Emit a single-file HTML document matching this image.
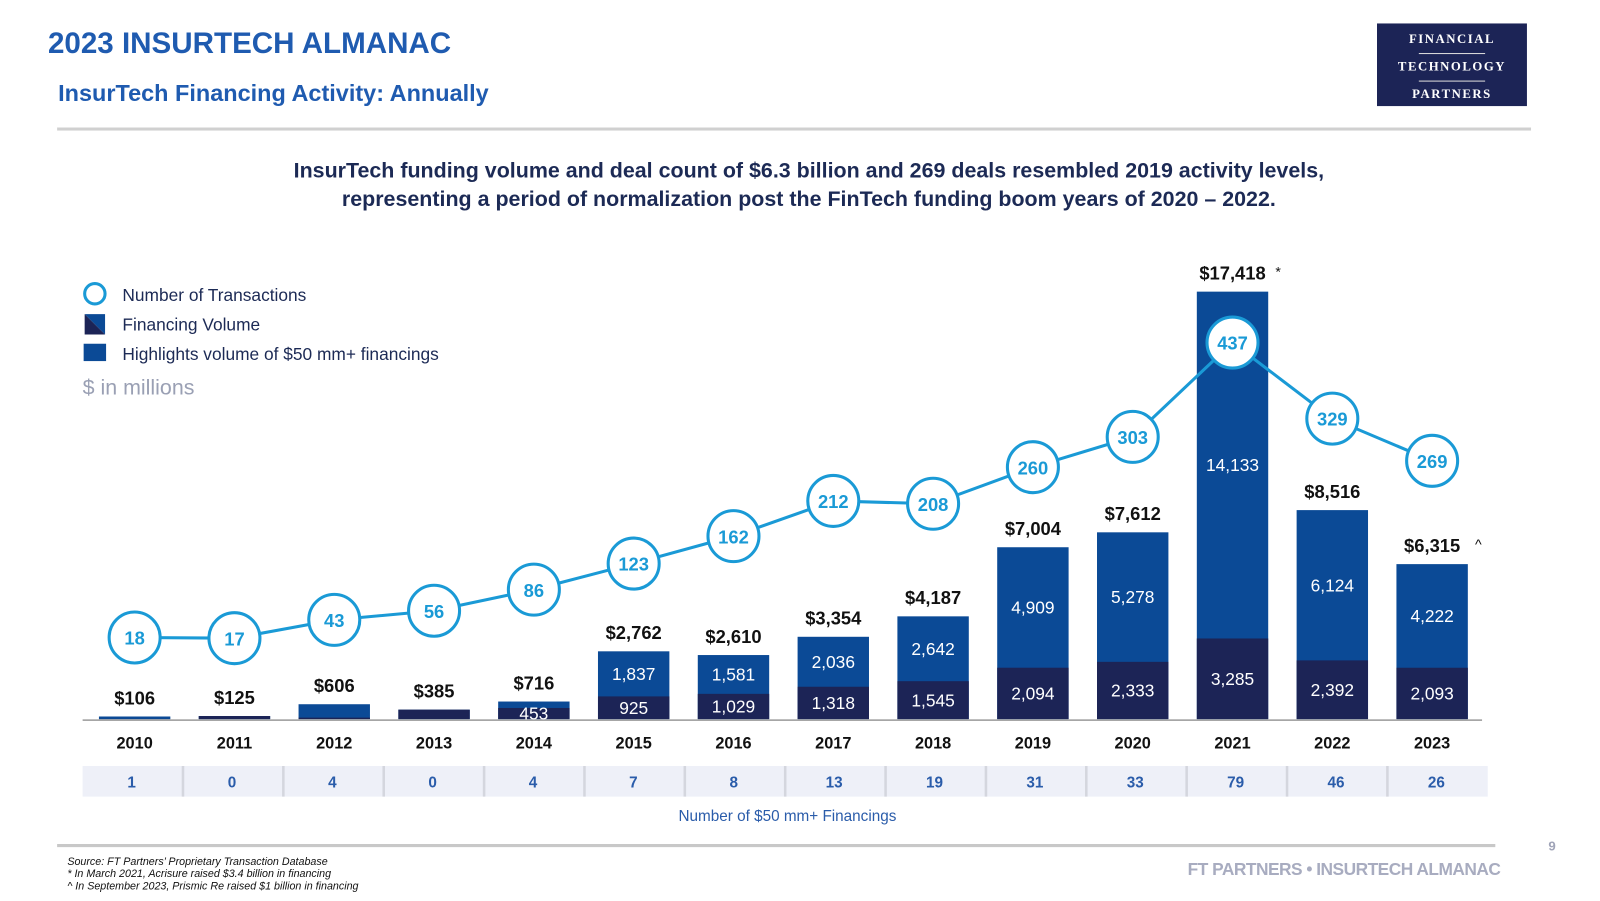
<!DOCTYPE html>
<html><head><meta charset="utf-8">
<style>
html,body{margin:0;padding:0;background:#fff;width:1600px;height:900px;overflow:hidden}
#wrap{position:absolute;left:0;top:0;width:1569px;height:883px;transform:scale(1.02);transform-origin:0 0;font-family:"Liberation Sans",sans-serif}
.abs{position:absolute}
</style></head><body>
<div id="wrap">
<div class="abs" style="left:47px;top:27px;font-size:29px;font-weight:bold;color:#1f5bb0">2023 INSURTECH ALMANAC</div>
<div class="abs" style="left:57px;top:78px;font-size:23px;font-weight:bold;color:#1f5bb0">InsurTech Financing Activity: Annually</div>
<div class="abs" style="left:1350px;top:23px;width:147px;height:81px;background:#1c2456;color:#fff;font-family:'Liberation Serif',serif;font-weight:bold;font-size:12.5px;letter-spacing:1.5px;text-align:center">
 <div style="margin-top:8px">FINANCIAL</div>
 <div style="width:65px;height:1px;background:#ddd;margin:6px auto 5px"></div>
 <div>TECHNOLOGY</div>
 <div style="width:65px;height:1px;background:#ddd;margin:6px auto 5px"></div>
 <div>PARTNERS</div>
</div>
<div class="abs" style="left:56px;top:125px;width:1445px;height:3px;background:#d0d0d0"></div>
<div class="abs" style="left:150px;top:154px;width:1286px;text-align:center;font-size:21px;line-height:28px;font-weight:bold;color:#1c2a55">InsurTech funding volume and deal count of $6.3 billion and 269 deals resembled 2019 activity levels,<br>representing a period of normalization post the FinTech funding boom years of 2020 – 2022.</div>

<svg class="abs" style="left:0;top:0" width="1569" height="883" font-family="Liberation Sans, sans-serif">
 <g>
  <circle cx="93" cy="288" r="10" fill="#fff" stroke="#1a9ad6" stroke-width="3"/>
  <text x="120" y="295" font-size="17" fill="#1c2a55">Number of Transactions</text>
  <polygon points="83,308 103,308 103,328" fill="#0b4a96"/>
  <polygon points="83,308 103,328 83,328" fill="#1c2456"/>
  <text x="120" y="324" font-size="17" fill="#1c2a55">Financing Volume</text>
  <rect x="82" y="337" width="22" height="17" fill="#0b4a96"/>
  <text x="120" y="353" font-size="17" fill="#1c2a55">Highlights volume of $50 mm+ financings</text>
  <text x="81" y="387" font-size="21" fill="#9aa0b4">$ in millions</text>
 </g>
 <line x1="81" y1="706" x2="1453" y2="706" stroke="#999" stroke-width="1.5"/>
 <g id="bars"></g><g id="line"></g><g id="table"></g>
 <text x="772" y="805" text-anchor="middle" font-size="15" fill="#2a5caa">Number of $50 mm+ Financings</text>
 <line x1="56" y1="829" x2="1466" y2="829" stroke="#c8c8c8" stroke-width="3"/>
 <text x="1518" y="834" font-size="13" font-weight="bold" fill="#a0a4b8">9</text>
 <text x="1471" y="858" text-anchor="end" font-size="17" font-weight="bold" fill="#a8acc0" letter-spacing="-0.5">FT PARTNERS • INSURTECH ALMANAC</text>
 <g font-size="10.5" font-style="italic" fill="#111">
  <text x="66" y="848">Source: FT Partners’ Proprietary Transaction Database</text>
  <text x="66" y="860">* In March 2021, Acrisure raised $3.4 billion in financing</text>
  <text x="66" y="872">^ In September 2023, Prismic Re raised $1 billion in financing</text>
 </g>
</svg>
</div>
<script>
const years=["2010","2011","2012","2013","2014","2015","2016","2017","2018","2019","2020","2021","2022","2023"];
const totals=[106,125,606,385,716,2762,2610,3354,4187,7004,7612,17418,8516,6315];
const darkVals=[6,125,60,385,453,925,1029,1318,1545,2094,2333,3285,2392,2093];
const overVals=[100,0,546,0,263,1837,1581,2036,2642,4909,5278,14133,6124,4222];
const deals=[18,17,43,56,86,123,162,212,208,260,303,437,329,269];
const bigDeals=[1,0,4,0,4,7,8,13,19,31,33,79,46,26];
const marks=["","","","","","","","","","","","*","","^"];
const NS="http://www.w3.org/2000/svg";
const x=i=>132+i*97.85, base=705, yv=v=>base-v*0.02406, yc=c=>637.4-c*0.69;
function mk(t,a,p){const e=document.createElementNS(NS,t);for(const k in a)e.setAttribute(k,a[k]);p.appendChild(e);return e;}
const fmt=v=>v.toLocaleString("en-US");
const gb=document.getElementById("bars"),gl=document.getElementById("line"),gt=document.getElementById("table");
years.forEach((y,i)=>{
 const cx=x(i),w=70,tot=totals[i],dk=darkVals[i],bl=overVals[i];
 const r1=mk("rect",{x:cx-w/2,y:yv(dk+bl),width:w,height:base-yv(dk+bl),fill:"#0b4a96"},gb);
 
 
 const r2=mk("rect",{x:cx-w/2,y:yv(dk),width:w,height:base-yv(dk),fill:"#1c2456"},gb);
 
 
 const t=mk("text",{x:cx,y:yv(tot)-12,"text-anchor":"middle","font-size":18,"font-weight":"bold",fill:"#111"},gb);
 t.textContent="$"+fmt(tot);
 
 
 if(marks[i]){const m=mk("text",{x:cx+42,y:yv(tot)-15,"font-size":14,fill:"#111"},gb);m.textContent=marks[i];
  
  }
 if(i>=4){
  const d=mk("text",{x:cx,y:(yv(dk)+base)/2+6,"text-anchor":"middle","font-size":17,fill:"#fff"},gb);d.textContent=fmt(dk);
  
  
  if(i>=5){const b=mk("text",{x:cx,y:(yv(dk+bl)+yv(dk))/2+6,"text-anchor":"middle","font-size":17,fill:"#fff"},gb);b.textContent=fmt(bl);
   
   }
 }
 const yl=mk("text",{x:cx,y:734,"text-anchor":"middle","font-size":16,"font-weight":"bold",fill:"#111"},gb);yl.textContent=y;
 
 
 const cell=mk("rect",{x:81+i*98.4,y:751,width:98.4,height:30,fill:"#eef0f8"},gt);
 
 
 if(i>0){const s=mk("line",{x1:81+i*98.4,y1:751,x2:81+i*98.4,y2:781,stroke:"#d4d6de","stroke-width":2.5},gt);
  
  }
 const ct=mk("text",{x:129+i*98.4,y:772,"text-anchor":"middle","font-size":15,"font-weight":"bold",fill:"#2a5caa"},gt);ct.textContent=bigDeals[i];
 
 
});
const pts=deals.map((c,i)=>x(i)+","+yc(c)).join(" ");
const pl=mk("polyline",{points:pts,fill:"none",stroke:"#1a9ad6","stroke-width":3},gl);


deals.forEach((c,i)=>{
 const ci=mk("circle",{cx:x(i),cy:yc(c),r:25,fill:"#fff",stroke:"#1a9ad6","stroke-width":3},gl);
 
 
 const t=mk("text",{x:x(i),y:yc(c)+7,"text-anchor":"middle","font-size":18,"font-weight":"bold",fill:"#1a9ad6"},gl);t.textContent=c;
 
 
});
</script>
</body></html>
